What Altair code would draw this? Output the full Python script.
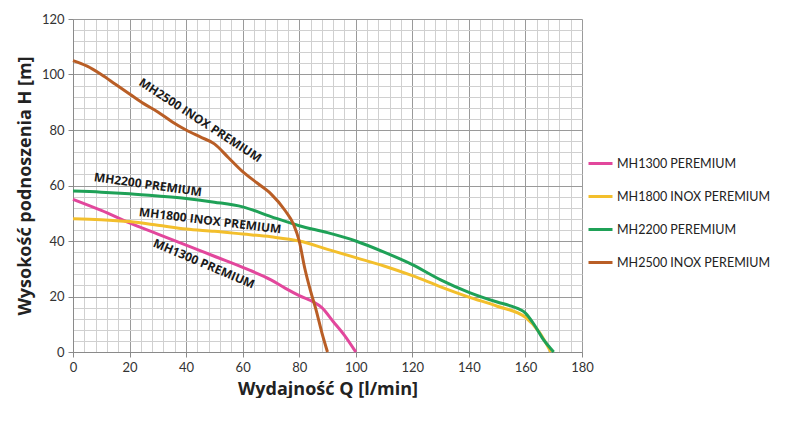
import altair as alt
import pandas as pd

# ---- data ----
series_names = ["MH1300 PEREMIUM", "MH1800 INOX PEREMIUM", "MH2200 PEREMIUM", "MH2500 INOX PEREMIUM"]
series_colors = ["#E2479C", "#F3BF2C", "#1FA157", "#B95E26"]

mh1300_q = [0, 10, 20, 30, 40, 50, 60, 70, 75, 80, 85, 88, 92, 96, 100]
mh1300_h = [55, 51, 46.5, 42.5, 38.5, 34.5, 30.5, 26, 23, 20.3, 18, 16, 11, 6, 0]

mh1800_q = [0, 10, 20, 30, 40, 50, 60, 70, 80, 90, 100, 110, 120, 130, 140, 150, 160, 165, 169]
mh1800_h = [48, 47.7, 47, 45.7, 44.3, 43.5, 42.5, 41.5, 40, 37, 34, 31, 27.5, 23.5, 19.8, 16.5, 12.5, 7, 0]

mh2200_q = [0, 10, 20, 30, 40, 50, 60, 70, 80, 90, 100, 110, 120, 130, 140, 150, 155, 160, 163, 166, 170]
mh2200_h = [58, 57.6, 57, 56.2, 55.3, 54, 52.3, 48.8, 45.5, 43, 40, 36, 31.5, 26, 21.5, 18, 16.5, 14, 10, 5, 0]

mh2500_q = [0, 5, 10, 15, 20, 25, 30, 35, 40, 45, 50, 55, 60, 65, 70, 75, 78, 80, 82, 84, 86, 88, 90]
mh2500_h = [105, 103, 100, 96.5, 93, 89.5, 86.5, 83, 80, 77.5, 75, 70, 65, 61, 57, 51, 46, 40, 30, 22, 15, 7, 0]

label_texts = ["MH2500 INOX PREMIUM", "MH2200 PREMIUM", "MH1800 INOX PREMIUM", "MH1300 PREMIUM"]
label_q = [45, 26.5, 48.5, 46.3]
label_h = [83.5, 60.3, 47.3, 31.8]
label_angles = [33, 8, 7, 23]

x_title = "Wydajność Q [l/min]"
y_title = "Wysokość podnoszenia H [m]"

# ---- build tables ----
rows = []
for name, qs, hs in zip(series_names,
                        [mh1300_q, mh1800_q, mh2200_q, mh2500_q],
                        [mh1300_h, mh1800_h, mh2200_h, mh2500_h]):
    for i, (q, h) in enumerate(zip(qs, hs)):
        rows.append({"series": name, "Q": q, "H": h, "idx": i})
df = pd.DataFrame(rows)

lab = pd.DataFrame({"text": label_texts, "Q": label_q, "H": label_h, "angle": label_angles})

major_grid = "#9a9a9a"
minor_grid = "#d0d0d0"

x_axis = alt.Axis(
    values=list(range(0, 181, 4)),
    labelExpr="datum.value % 20 == 0 ? datum.label : ''",
    labelOverlap=False, labelFlush=False,
    gridColor=alt.condition("datum.value % 20 == 0", alt.value(major_grid), alt.value(minor_grid)),
    tickColor=alt.condition("datum.value % 20 == 0", alt.value("#8a8a8a"), alt.value("transparent")),
    tickSize=5, domainColor="#8a8a8a", gridWidth=1,
    labelFont="Lato", labelFontSize=13, labelColor="#333333", labelPadding=4,
    title=x_title, titleFont="Open Sans", titleFontSize=18, titleFontWeight="bold",
    titleColor="#222222", titlePadding=6,
)
y_axis = alt.Axis(
    values=list(range(0, 121, 4)),
    labelExpr="datum.value % 20 == 0 ? datum.label : ''",
    labelOverlap=False, labelFlush=False,
    gridColor=alt.condition("datum.value % 20 == 0", alt.value(major_grid), alt.value(minor_grid)),
    tickColor=alt.condition("datum.value % 20 == 0", alt.value("#8a8a8a"), alt.value("transparent")),
    tickSize=5, domainColor="#8a8a8a", gridWidth=1,
    labelFont="Lato", labelFontSize=13, labelColor="#333333", labelPadding=4,
    title=y_title, titleFont="Open Sans", titleFontSize=18, titleFontWeight="bold",
    titleColor="#222222", titlePadding=7,
)

x_enc = alt.X("Q:Q", scale=alt.Scale(domain=[0, 180], nice=False), axis=x_axis)
y_enc = alt.Y("H:Q", scale=alt.Scale(domain=[0, 120], nice=False), axis=y_axis)

lines = alt.Chart(df).mark_line(strokeWidth=3, interpolate="monotone").encode(
    x=x_enc,
    y=y_enc,
    color=alt.Color(
        "series:N",
        scale=alt.Scale(domain=series_names, range=series_colors),
        legend=alt.Legend(
            title=None, orient="none", legendX=514, legendY=131,
            symbolType="stroke", symbolStrokeWidth=3, symbolSize=576,
            labelFont="Lato", labelFontSize=12.5, labelColor="#222222",
            rowPadding=13, labelOffset=3, padding=0,
        ),
    ),
    order="idx:Q",
)

labels = alt.Chart(lab).mark_text(
    font="Open Sans", fontWeight="bold", fontSize=12, color="#1a1a1a"
).encode(
    x=x_enc,
    y=y_enc,
    text="text:N",
    angle=alt.Angle("angle:Q", scale=None),
)

chart = alt.layer(lines, labels).properties(
    width=509, height=333, background="white",
    padding={"left": 8, "top": 5, "right": 0, "bottom": 0},
).configure_view(stroke=None)

chart.save("out.html", embed_options={"renderer": "svg", "actions": False})
